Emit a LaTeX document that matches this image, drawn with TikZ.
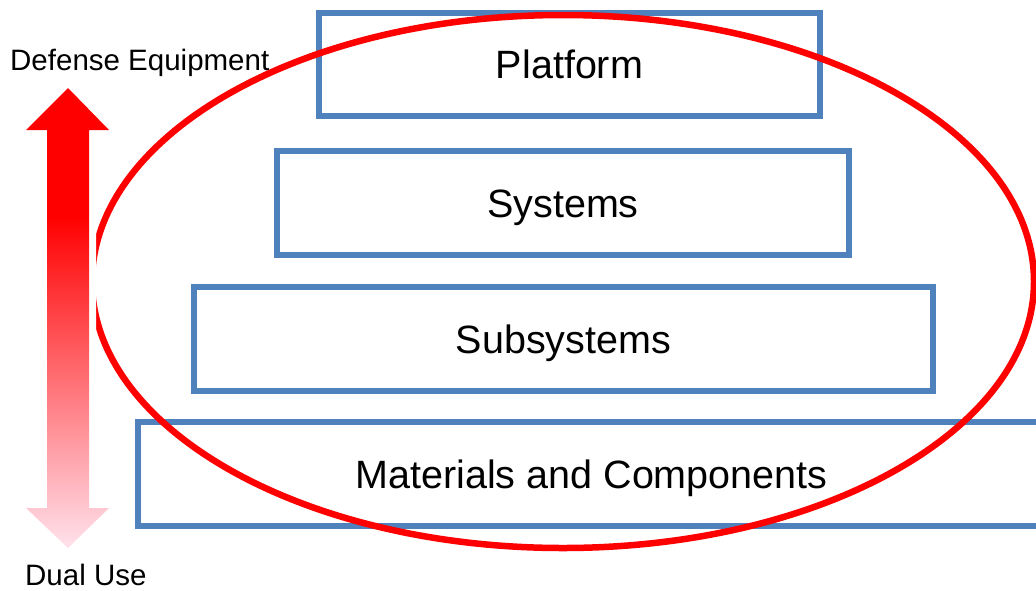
\documentclass[tikz,border=0pt]{standalone}
\usepackage{fontspec}
\setmainfont{Liberation Sans}
\usetikzlibrary{shapes.geometric}
\definecolor{boxblue}{RGB}{79,129,189}
\definecolor{arrowpink}{RGB}{255,226,236}
\pgfdeclareverticalshading{redfade}{100bp}{color(0bp)=(arrowpink); color(25bp)=(arrowpink); color(61bp)=(red); color(100bp)=(red)}
\tikzset{
  levelbox/.style={draw=boxblue, line width=5.5pt, inner sep=0pt, text height=28pt, text depth=0pt,
    minimum height=104pt, font=\fontsize{39.5}{40}\selectfont},
  sidelabel/.style={inner sep=0pt, font=\fontsize{29.5}{30}\selectfont}
}
\begin{document}
\begin{tikzpicture}[x=1pt,y=-1pt]
\useasboundingbox (0,0) rectangle (1036,590);
\node[levelbox, minimum width=501pt, minimum height=103pt] (platform) at (569.5,64.5) {Platform};
\node[levelbox, minimum width=572pt] (systems) at (563,203) {Systems};
\node[levelbox, minimum width=739pt] (subsystems) at (563.5,339) {Subsystems};
\node[levelbox, minimum width=907pt] (materials) at (591.5,474) {Materials and Components};
\node[ellipse, draw=red, line width=6.5pt, minimum width=942pt, minimum height=533pt] (ring) at (563,281.5) {};
% up and down arrow
\draw[white, line width=14pt, line join=round]
  (68,88) -- (109,130) -- (89,130) -- (89,508) -- (109,508) -- (68,548)
  -- (26,508) -- (47,508) -- (47,130) -- (26,130) -- cycle;
\shade[shading=redfade]
  (68,88) -- (109,130) -- (89,130) -- (89,508) -- (109,508) -- (68,548)
  -- (26,508) -- (47,508) -- (47,130) -- (26,130) -- cycle;
\node[sidelabel, anchor=base west] (defense) at (10,70) {Defense Equipment};
\node[sidelabel, anchor=base west] (dualuse) at (25,585) {Dual Use};
\end{tikzpicture}
\end{document}
